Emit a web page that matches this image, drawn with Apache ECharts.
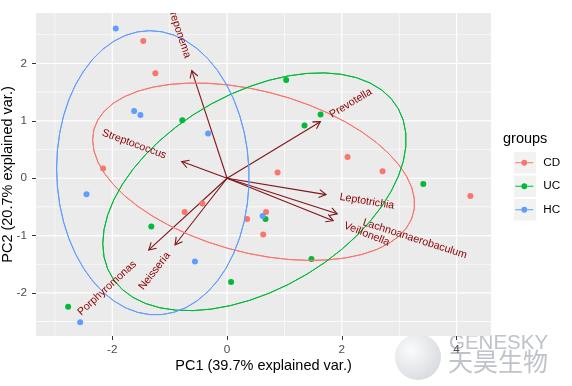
<!DOCTYPE html>
<html><head><meta charset="utf-8">
<script src="https://cdn.jsdelivr.net/npm/echarts@6/dist/echarts.min.js"></script>
<style>html,body{margin:0;padding:0;background:#fff}#c{width:572px;height:386px}</style>
</head><body><div id="c"></div>
<script>
// ---------- data ----------
const groups = ['CD', 'UC', 'HC'];
const groupColors = ['#F8766D', '#00BA38', '#619CFF'];
const cdPoints = [[-1.46, 2.39], [-1.25, 1.83], [-2.16, 0.17], [2.10, 0.37], [0.88, 0.10], [2.71, 0.12],
                  [-0.43, -0.44], [-0.74, -0.59], [0.35, -0.71], [4.24, -0.31], [0.68, -0.59], [0.63, -0.98]];
const ucPoints = [[-0.78, 1.01], [1.03, 1.71], [1.63, 1.11], [1.35, 0.92], [-1.32, -0.84],
                  [0.07, -1.81], [-2.77, -2.24], [3.42, -0.10], [0.67, -0.71], [1.47, -1.41]];
const hcPoints = [[-1.94, 2.61], [-1.62, 1.17], [-1.51, 1.10], [-0.33, 0.78],
                  [-2.45, -0.28], [-0.56, -1.45], [-2.56, -2.51], [0.62, -0.66]];
const varNames = ['Treponema', 'Streptococcus', 'Prevotella', 'Leptotrichia',
                  'Lachnoanaerobaculum', 'Veillonella', 'Porphyromonas', 'Neisseria'];
const varPC1 = [-0.615, -0.79, 1.626, 1.725, 1.92, 1.85, -1.365, -0.906];
const varPC2 = [1.875, 0.29, 0.986, -0.286, -0.62, -0.74, -1.25, -1.16];
const xMajorTicks = [-2, 0, 2, 4];
const xMinorTicks = [-3, -1, 1, 3];
const yMajorTicks = [-2, -1, 0, 1, 2];
const yMinorTicks = [-2.5, -1.5, -0.5, 0.5, 1.5, 2.5];
const xTitle = 'PC1 (39.7% explained var.)';
const yTitle = 'PC2 (20.7% explained var.)';
const legendTitle = 'groups';
const ellipseProb = 0.68;
const watermarkLatin = 'GENESKY';
const watermarkCJK = '天昊生物';

// ---------- helpers ----------
const groupPoints = [cdPoints, ucPoints, hcPoints];
const FONT = '"Liberation Sans", Arial, sans-serif';
const labelFontSize = 10.7;
const labelFont = labelFontSize + 'px ' + FONT;
const measureCtx = document.createElement('canvas').getContext('2d');
measureCtx.font = labelFont;

// ggbiplot-style normal ellipse computed from each group's points
function groupEllipse(pts) {
  const n = pts.length;
  let mx = 0, my = 0;
  pts.forEach(p => { mx += p[0]; my += p[1]; });
  mx /= n; my /= n;
  let sxx = 0, syy = 0, sxy = 0;
  pts.forEach(p => { const dx = p[0] - mx, dy = p[1] - my; sxx += dx * dx; syy += dy * dy; sxy += dx * dy; });
  sxx /= (n - 1); syy /= (n - 1); sxy /= (n - 1);
  const r11 = Math.sqrt(sxx), r12 = sxy / r11, r22 = Math.sqrt(syy - r12 * r12);
  const ed = Math.sqrt(-2 * Math.log(1 - ellipseProb));
  const out = [];
  const thetas = [];
  for (let i = 0; i < 50; i++) thetas.push(-Math.PI + 2 * Math.PI * i / 49);
  for (let i = 0; i < 50; i++) thetas.push(Math.PI - 2 * Math.PI * i / 49);
  thetas.forEach(t => {
    const c = Math.cos(t), s = Math.sin(t);
    out.push([mx + ed * c * r11, my + ed * (c * r12 + s * r22)]);
  });
  return out;
}

const gridLineData = []
  .concat(xMinorTicks.map(v => ({ value: [v, 0], dir: 'x', w: 0.6 })))
  .concat(xMajorTicks.map(v => ({ value: [v, 0], dir: 'x', w: 1.2 })))
  .concat(yMinorTicks.map(v => ({ value: [0, v], dir: 'y', w: 0.6 })))
  .concat(yMajorTicks.map(v => ({ value: [0, v], dir: 'y', w: 1.2 })));

const series = [];
// panel background + grid lines
series.push({
  type: 'custom', silent: true, z: 1, clip: false,
  data: gridLineData.map(d => d.value),
  renderItem: (params, api) => {
    const cs = params.coordSys;
    const d = gridLineData[params.dataIndex];
    const children = [];
    if (params.dataIndex === 0) {
      children.push({ type: 'rect', shape: { x: cs.x, y: cs.y, width: cs.width, height: cs.height },
                      style: { fill: '#EBEBEB' }, z2: -10 });
    }
    if (d.dir === 'x') {
      const x = api.coord([d.value[0], 0])[0];
      children.push({ type: 'rect', shape: { x: x - d.w / 2, y: cs.y, width: d.w, height: cs.height },
                      style: { fill: '#FFFFFF' }, z2: d.w > 1 ? 2 : 1 });
    } else {
      const y = api.coord([0, d.value[1]])[1];
      children.push({ type: 'rect', shape: { x: cs.x, y: y - d.w / 2, width: cs.width, height: d.w },
                      style: { fill: '#FFFFFF' }, z2: d.w > 1 ? 2 : 1 });
    }
    return { type: 'group', children: children };
  }
});
// arrows
series.push({
  type: 'custom', silent: true, z: 2, clip: true,
  data: varPC1.map((x, i) => [x, varPC2[i]]),
  renderItem: (params, api) => {
    const o = api.coord([0, 0]);
    const t = api.coord([api.value(0), api.value(1)]);
    const a = Math.atan2(t[1] - o[1], t[0] - o[0]);
    const L = 8, sp = Math.PI / 6;
    const b1 = [t[0] - L * Math.cos(a - sp), t[1] - L * Math.sin(a - sp)];
    const b2 = [t[0] - L * Math.cos(a + sp), t[1] - L * Math.sin(a + sp)];
    return { type: 'group', children: [
      { type: 'line', shape: { x1: o[0], y1: o[1], x2: t[0], y2: t[1] }, style: { stroke: '#7F1518', lineWidth: 1.1 } },
      { type: 'polyline', shape: { points: [b1, t, b2] }, style: { stroke: '#7F1518', lineWidth: 1.1, fill: null } }
    ] };
  }
});
// points
groups.forEach((g, i) => {
  series.push({
    type: 'scatter', name: g, data: groupPoints[i], symbol: 'circle', symbolSize: 6,
    itemStyle: { color: groupColors[i], opacity: 1 }, z: 3, silent: true
  });
});
// ellipses
groups.forEach((g, i) => {
  series.push({
    type: 'line', name: g, data: groupEllipse(groupPoints[i]), showSymbol: false, symbol: 'none',
    lineStyle: { color: groupColors[i], width: 1 }, itemStyle: { color: groupColors[i] },
    z: 4, silent: true, animation: false
  });
});
// variable labels
series.push({
  type: 'custom', silent: true, z: 5, clip: true,
  data: varPC1.map((x, i) => [x, varPC2[i], i]),
  renderItem: (params, api) => {
    const xv = api.value(0), yv = api.value(1);
    const name = varNames[api.value(2)];
    const t = api.coord([xv, yv]);
    const w = measureCtx.measureText(name).width;
    const ang = Math.atan(yv / xv);
    const pos = xv >= 0;
    return { type: 'text', x: t[0], y: t[1], rotation: ang,
      style: { text: name, x: pos ? 0.25 * w : -0.25 * w, y: 0,
               align: pos ? 'left' : 'right', verticalAlign: 'middle',
               fill: '#8B0000', font: labelFont } };
  }
});

const iconPath = 'path://M0,10.4L18,10.4L18,11.6L0,11.6Z M9,8.1A2.9,2.9 0 1 1 8.99,8.1Z';

const option = {
  animation: false,
  backgroundColor: '#FFFFFF',
  textStyle: { fontFamily: FONT },
  grid: { left: 36, top: 13, width: 455, height: 323, show: false, outerBoundsMode: 'none', containLabel: false },
  xAxis: {
    type: 'value', min: -3.33, max: 4.60,
    name: xTitle, nameLocation: 'middle', nameGap: 22, nameMoveOverlap: false,
    nameTextStyle: { fontSize: 14.5, color: '#000000', fontFamily: FONT },
    axisLine: { show: false, onZero: false },
    axisTick: { show: true, length: 4, customValues: xMajorTicks, lineStyle: { color: '#333333', width: 1 } },
    axisLabel: { customValues: xMajorTicks, color: '#4D4D4D', fontSize: 11.7, margin: 8, fontFamily: FONT },
    splitLine: { show: false }, minorSplitLine: { show: false }
  },
  yAxis: {
    type: 'value', min: -2.75, max: 2.88,
    name: yTitle, nameLocation: 'middle', nameGap: 20.5, nameMoveOverlap: false,
    nameTextStyle: { fontSize: 14.5, color: '#000000', fontFamily: FONT },
    axisLine: { show: false, onZero: false },
    axisTick: { show: true, length: 4, customValues: yMajorTicks, lineStyle: { color: '#333333', width: 1 } },
    axisLabel: { customValues: yMajorTicks, color: '#4D4D4D', fontSize: 11.7, margin: 9, fontFamily: FONT },
    splitLine: { show: false }
  },
  title: { text: legendTitle, left: 503, top: 131, padding: 0,
           textStyle: { fontSize: 14.5, fontWeight: 'normal', color: '#000000', fontFamily: FONT } },
  legend: {
    data: groups.map(g => ({ name: g, icon: iconPath })),
    orient: 'vertical', left: 515.3, top: 152, padding: 0,
    itemWidth: 18, itemHeight: 21.5, itemGap: 2, symbolKeepAspect: true,
    selectedMode: false,
    textStyle: { fontSize: 11.7, lineHeight: 21.5, color: '#000000', fontFamily: FONT, padding: [0, 0, 0, 5] }
  },
  graphic: [
    ...groups.map((g, i) => ({ type: 'rect', left: 514, top: 152 + i * 23.5, z: -1,
       shape: { width: 22, height: 21.5 }, style: { fill: '#F2F2F2' } })),
    { type: 'circle', left: 395, top: 334, z: 0, silent: true,
      shape: { r: 23 },
      style: { fill: { type: 'radial', x: 0.35, y: 0.35, r: 0.8,
               colorStops: [{ offset: 0, color: '#FAFAFB' }, { offset: 1, color: '#C9CDD3' }] }, opacity: 0.8 } },
    { type: 'text', left: 449, top: 333, z: 0, silent: true,
      style: { text: watermarkLatin, font: '20.5px ' + FONT, fill: '#BFC3C9' } },
    { type: 'text', left: 448, top: 349, z: 0, silent: true,
      style: { text: watermarkCJK, font: '25px "Noto Sans CJK SC", sans-serif', fill: '#BFC3C9' } }
  ],
  series: series
};

const chart = echarts.init(document.getElementById('c'), null, { renderer: 'canvas' });
chart.setOption(option);
</script>
</body></html>
